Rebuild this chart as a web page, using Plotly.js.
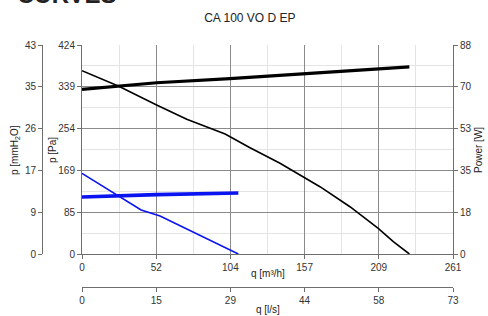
<!DOCTYPE html>
<html>
<head>
<meta charset="utf-8">
<script src="https://cdn.plot.ly/plotly-3.0.1.min.js"></script>
<style>html,body{margin:0;padding:0;background:#fff;}#chart{width:488px;height:316px;}</style>
</head>
<body>
<div id="chart"></div>
<script>
// ---- data ----
const blackPressQ = [0, 25.5, 52.5, 73.7, 100.7, 118.2, 139.3, 155.7, 167.4, 188.5, 208.4, 219, 230.3];
const blackPressPa = [371.4, 340.4, 301.9, 272.9, 243.2, 215.4, 183.8, 156.6, 136.4, 95.8, 52.1, 24.9, 0];
const blackPowerQ = [0, 52.5, 104, 157, 209, 230.3];
const blackPowerW = [69.3, 72.1, 73.8, 75.8, 77.9, 78.8];
const bluePressQ = [0, 25.5, 41.6, 54.9, 76.0, 85.3, 94.8, 110];
const bluePressPa = [163.5, 117.5, 89.2, 77.0, 47.2, 35.1, 20.3, 0];
const bluePowerQ = [0, 52.5, 110];
const bluePowerW = [24.0, 25.0, 25.7];

// ---- axes ticks ----
const qMax = 261, qlsMax = 72.5, paMax = 423.5, mmMax = 43.18, wMax = 88;
const qTicks = [0, 52.2, 104.4, 156.6, 208.8, 261];
const qLabels = ['0', '52', '104', '157', '209', '261'];
const qlsTicks = [0, 14.5, 29, 43.5, 58, 72.5];
const qlsLabels = ['0', '15', '29', '44', '58', '73'];
const paTicks = [0, 84.7, 169.4, 254.1, 338.8, 423.5];
const paLabels = ['0', '85', '169', '254', '339', '424'];
const mmTicks = [0, 8.636, 17.272, 25.908, 34.544, 43.18];
const mmLabels = ['0', '9', '17', '26', '35', '43'];
const wTicks = [0, 17.6, 35.2, 52.8, 70.4, 88];
const wLabels = ['0', '18', '35', '53', '70', '88'];

const FONT = 'Liberation Sans, Arial, sans-serif';
const tickFont = {family: FONT, size: 10, color: '#333'};
const titleFont = {family: FONT, size: 10, color: '#222'};
const axisCol = '#6e6e6e';
const majorGrid = '#8a8a8a';
const minorGrid = '#e4e4e4';

const traces = [
  {x: blackPressQ, y: blackPressPa, xaxis: 'x', yaxis: 'y', mode: 'lines', line: {color: '#000', width: 1.6}, hoverinfo: 'skip'},
  {x: blackPowerQ, y: blackPowerW, xaxis: 'x', yaxis: 'y2', mode: 'lines', line: {color: '#000', width: 3.2}, hoverinfo: 'skip'},
  {x: bluePressQ, y: bluePressPa, xaxis: 'x', yaxis: 'y', mode: 'lines', line: {color: '#0a14f0', width: 1.6}, hoverinfo: 'skip'},
  {x: bluePowerQ, y: bluePowerW, xaxis: 'x', yaxis: 'y2', mode: 'lines', line: {color: '#0a14f0', width: 3.6}, hoverinfo: 'skip'},
  // invisible helper so the secondary scales (l/s and mmH2O) are drawn
  {x: qlsTicks, y: mmTicks, xaxis: 'x2', yaxis: 'y3', mode: 'markers', marker: {opacity: 0, size: 1}, hoverinfo: 'skip'}
];

const axBase = {
  showline: true, linecolor: axisCol, linewidth: 1,
  ticks: 'outside', ticklen: 4, tickcolor: axisCol, tickwidth: 1,
  tickfont: tickFont, zeroline: false, tickmode: 'array', fixedrange: true
};

// paper coordinates: plot paper spans x 30..453 px, y 45..300 px
const W = 423, H = 255;
const px = p => (p - 30) / W;
const py = p => (300 - p) / H;

function axTitle(text, x, y, angle) {
  return {text: text, xref: 'paper', yref: 'paper', x: px(x), y: py(y), xanchor: 'center', yanchor: 'middle',
          textangle: angle, showarrow: false, font: titleFont};
}

const layout = {
  width: 488, height: 316,
  margin: {l: 30, r: 35, t: 45, b: 16},
  paper_bgcolor: '#fff', plot_bgcolor: '#fff',
  showlegend: false,
  title: {text: 'CA 100 VO D EP', font: {family: FONT, size: 12, color: '#222'}, x: 0.512, xref: 'container', xanchor: 'center', y: 0.945, yref: 'container', yanchor: 'middle'},
  xaxis: Object.assign({}, axBase, {
    domain: [px(82), 1], range: [0, qMax], anchor: 'y',
    tickvals: qTicks, ticktext: qLabels,
    showgrid: true, gridcolor: majorGrid, gridwidth: 1,
    minor: {dtick: qMax/10, tick0: 0, showgrid: true, gridcolor: minorGrid, ticks: ''}
  }),
  xaxis2: Object.assign({}, axBase, {
    overlaying: 'x', anchor: 'free', position: py(287), side: 'bottom',
    range: [0, qlsMax], tickvals: qlsTicks, ticktext: qlsLabels, showgrid: false
  }),
  yaxis: Object.assign({}, axBase, {
    domain: [py(254), 1], range: [0, paMax], anchor: 'x', side: 'left',
    tickvals: paTicks, ticktext: paLabels,
    showgrid: true, gridcolor: majorGrid, gridwidth: 1,
    minor: {dtick: paMax/10, tick0: 0, showgrid: true, gridcolor: minorGrid, ticks: ''}
  }),
  yaxis2: Object.assign({}, axBase, {
    overlaying: 'y', anchor: 'x', side: 'right',
    range: [0, wMax], tickvals: wTicks, ticktext: wLabels, showgrid: false
  }),
  yaxis3: Object.assign({}, axBase, {
    overlaying: 'y', anchor: 'free', position: px(42), side: 'left',
    range: [0, mmMax], tickvals: mmTicks, ticktext: mmLabels, showgrid: false
  }),
  annotations: [
    {text: '<b>CURVES</b>', xref: 'paper', yref: 'paper', x: px(15), y: 1.137, xanchor: 'left', yanchor: 'bottom', showarrow: false, font: {family: FONT, size: 24, color: '#222'}},
    axTitle('p [mmH<sub>2</sub>O]', 15, 150, -90),
    axTitle('p [Pa]', 52, 150, -90),
    axTitle('Power [W]', 478, 150, -90),
    axTitle('q [m³/h]', 267.5, 273, 0),
    axTitle('q [l/s]', 267.5, 309, 0)
  ]
};

Plotly.newPlot('chart', traces, layout, {staticPlot: true, displayModeBar: false});
</script>
</body>
</html>
